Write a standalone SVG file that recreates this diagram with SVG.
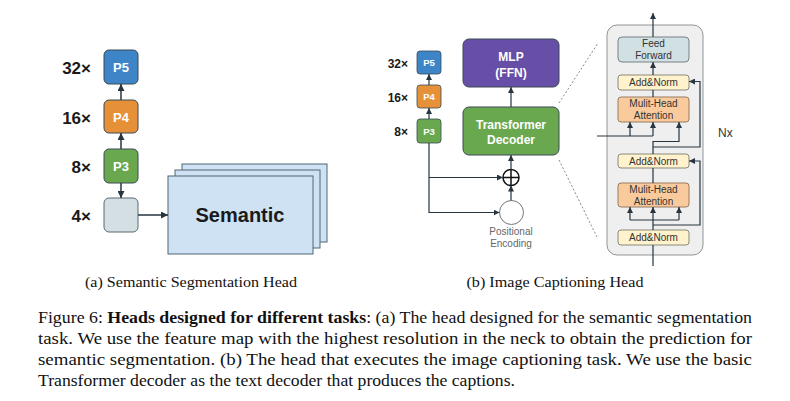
<svg xmlns="http://www.w3.org/2000/svg" width="790" height="401" viewBox="0 0 790 401">
<style>
.lbl{font-family:"Liberation Sans",Arial,sans-serif;font-weight:bold;fill:#1a1a1a}
.pt{font-family:"Liberation Sans",Arial,sans-serif;font-weight:bold;fill:#fff;text-anchor:middle}
.bt{font-family:"Liberation Sans",Arial,sans-serif;fill:#333;text-anchor:middle;font-size:10px}
.ln{fill:none;stroke:#263540;stroke-width:1.5}
.ln2{fill:none;stroke:#263540;stroke-width:1.2}
.cap{font-family:"Liberation Serif","Times New Roman",serif;fill:#111}
.dash{fill:none;stroke:#8a8a8a;stroke-width:1;stroke-dasharray:2 2}
</style>
<defs>
<marker id="ah" viewBox="0 0 10 10" refX="10" refY="5" markerWidth="7" markerHeight="7" markerUnits="userSpaceOnUse" orient="auto"><path d="M0,0 L10,5 L0,10 z" fill="#263540"/></marker>
<marker id="ah2" viewBox="0 0 10 10" refX="10" refY="5" markerWidth="6" markerHeight="6" markerUnits="userSpaceOnUse" orient="auto"><path d="M0,0 L10,5 L0,10 z" fill="#263540"/></marker>
</defs>

<!-- (a) Semantic segmentation head -->
<g id="labels-a">
<text class="lbl" x="91" y="74" font-size="17" text-anchor="end">32×</text>
<text class="lbl" x="91" y="124" font-size="17" text-anchor="end">16×</text>
<text class="lbl" x="91" y="173" font-size="17" text-anchor="end">8×</text>
<text class="lbl" x="91" y="222" font-size="17" text-anchor="end">4×</text>
</g>
<g id="a-P5"><rect x="104" y="50" width="34" height="34" rx="5" fill="#3d85c6" stroke="#3a4a55"/><text class="pt" x="121" y="72" font-size="13">P5</text></g>
<g id="a-P4"><rect x="104" y="100" width="34" height="33" rx="5" fill="#e69138" stroke="#3a4a55"/><text class="pt" x="121" y="121.5" font-size="13">P4</text></g>
<g id="a-P3"><rect x="104" y="149" width="34" height="34" rx="5" fill="#6aa84f" stroke="#3a4a55"/><text class="pt" x="121" y="171" font-size="13">P3</text></g>
<g id="a-P2"><rect x="104" y="198" width="34" height="34" rx="5" fill="#d3dfe3" stroke="#5a6a72"/></g>
<g id="a-semantic">
<rect x="182" y="164" width="145" height="78" fill="#cfe2f3" stroke="#4f6676"/>
<rect x="175" y="170" width="145" height="78" fill="#cfe2f3" stroke="#4f6676"/>
<rect x="168" y="176" width="145" height="78" fill="#cfe2f3" stroke="#4f6676"/>
<text class="lbl" x="240" y="222" font-size="20" text-anchor="middle" fill="#111">Semantic</text>
</g>
<g id="a-connectors">
<path class="ln" d="M121,100 V84" marker-end="url(#ah)"/>
<path class="ln" d="M121,149 V133" marker-end="url(#ah)"/>
<path class="ln" d="M121,183 V198" marker-end="url(#ah)"/>
<path class="ln" d="M138,215 H168" marker-end="url(#ah)"/>
</g>

<!-- (b) Image captioning head -->
<g id="labels-b">
<text class="lbl" x="408" y="67.5" font-size="12" text-anchor="end">32×</text>
<text class="lbl" x="408" y="101.5" font-size="12" text-anchor="end">16×</text>
<text class="lbl" x="408" y="135.5" font-size="12" text-anchor="end">8×</text>
</g>
<g id="b-P5"><rect x="417" y="51" width="24" height="23" rx="3" fill="#3d85c6" stroke="#3a4a55" stroke-width="0.8"/><text class="pt" x="429" y="66" font-size="9.5">P5</text></g>
<g id="b-P4"><rect x="417" y="85" width="24" height="23" rx="3" fill="#e69138" stroke="#3a4a55" stroke-width="0.8"/><text class="pt" x="429" y="100" font-size="9.5">P4</text></g>
<g id="b-P3"><rect x="417" y="119" width="24" height="24" rx="3" fill="#6aa84f" stroke="#3a4a55" stroke-width="0.8"/><text class="pt" x="429" y="134.5" font-size="9.5">P3</text></g>
<g id="b-mlp"><rect x="463" y="39" width="96" height="48" rx="6" fill="#674ea7" stroke="#3a4a55"/><text class="pt" x="511" y="61" font-size="12">MLP</text><text class="pt" x="511" y="77" font-size="12">(FFN)</text></g>
<g id="b-decoder"><rect x="463" y="107" width="96" height="48" rx="6" fill="#6aa84f" stroke="#3a4a55"/><text class="pt" x="511" y="129" font-size="12">Transformer</text><text class="pt" x="511" y="143.5" font-size="12">Decoder</text></g>
<g id="b-plus"><circle cx="511" cy="177.5" r="8" fill="#fff" stroke="#111" stroke-width="1.5"/><path d="M503,177.5 H519 M511,169.5 V185.5" stroke="#111" stroke-width="1.5"/></g>
<g id="b-posenc"><circle cx="511.5" cy="212.5" r="12" fill="#fff" stroke="#777"/>
<text x="511" y="235" font-size="10" text-anchor="middle" fill="#666" font-family="'Liberation Sans',Arial,sans-serif">Positional</text>
<text x="511" y="247" font-size="10" text-anchor="middle" fill="#666" font-family="'Liberation Sans',Arial,sans-serif">Encoding</text></g>
<g id="b-connectors">
<path class="ln2" d="M429,85 V74" marker-end="url(#ah2)"/>
<path class="ln2" d="M429,119 V108" marker-end="url(#ah2)"/>
<path class="ln2" d="M429,143 V212.5 H499.5" marker-end="url(#ah2)"/>
<path class="ln2" d="M429,177.5 H503" marker-end="url(#ah2)"/>
<path class="ln2" d="M511,200.5 V185.5" marker-end="url(#ah2)"/>
<path class="ln2" d="M511,169.5 V155" marker-end="url(#ah2)"/>
<path class="ln2" d="M511,107 V87" marker-end="url(#ah2)"/>
<path class="dash" d="M559,103 L598,43"/>
<path class="dash" d="M559,160 L598,239"/>
</g>

<!-- expanded decoder block -->
<g id="block"><rect x="607" y="25" width="96" height="230" rx="10" fill="#efefef" stroke="#8f9498"/></g>
<g id="ff"><rect x="618" y="37" width="71" height="25" rx="4" fill="#d0e0e3" stroke="#7a8085"/><text class="bt" x="653.5" y="47">Feed</text><text class="bt" x="653.5" y="58.5">Forward</text></g>
<g id="addnorm3"><rect x="618" y="75" width="71" height="15" rx="3" fill="#fff2cc" stroke="#8a8a7a"/><text class="bt" x="653.5" y="86">Add&amp;Norm</text></g>
<g id="mha2"><rect x="618" y="97" width="71" height="25" rx="3" fill="#f9cb9c" stroke="#9a7a60"/><text class="bt" x="653.5" y="107">Mulit-Head</text><text class="bt" x="653.5" y="119">Attention</text></g>
<g id="addnorm2"><rect x="618" y="154" width="71" height="14" rx="3" fill="#fff2cc" stroke="#8a8a7a"/><text class="bt" x="653.5" y="164.5">Add&amp;Norm</text></g>
<g id="mha1"><rect x="618" y="183" width="71" height="24" rx="3" fill="#f9cb9c" stroke="#9a7a60"/><text class="bt" x="653.5" y="193">Mulit-Head</text><text class="bt" x="653.5" y="204.5">Attention</text></g>
<g id="addnorm1"><rect x="618" y="230" width="71" height="15" rx="3" fill="#fff2cc" stroke="#8a8a7a"/><text class="bt" x="653.5" y="241">Add&amp;Norm</text></g>
<g id="nx"><text x="718" y="137" font-size="12" fill="#333" font-family="'Liberation Sans',Arial,sans-serif">Nx</text></g>
<g id="block-connectors">
<path class="ln2" d="M653,37 V13" marker-end="url(#ah2)"/>
<path class="ln2" d="M653,75 V62" marker-end="url(#ah2)"/>
<path class="ln2" d="M653,97 V90"/>
<path class="ln2" d="M597,136 H653"/>
<path class="ln2" d="M630,136 V122" marker-end="url(#ah2)"/>
<path class="ln2" d="M653,136 V122" marker-end="url(#ah2)"/>
<path class="ln2" d="M653,154 V141.5 H679 V122" marker-end="url(#ah2)"/>
<path class="ln2" d="M653,147 H700 V81.5 H689" marker-end="url(#ah2)"/>
<path class="ln2" d="M653,183 V168"/>
<path class="ln2" d="M630,220 H679"/>
<path class="ln2" d="M630,220 V207" marker-end="url(#ah2)"/>
<path class="ln2" d="M679,220 V207" marker-end="url(#ah2)"/>
<path class="ln2" d="M653,230 V207" marker-end="url(#ah2)"/>
<path class="ln2" d="M653,225 H700 V161 H689" marker-end="url(#ah2)"/>
<path class="ln2" d="M653,266 V245"/>
</g>

<!-- captions -->
<g id="captions" xml:space="preserve">
<text class="cap" x="191" y="287" font-size="15" text-anchor="middle" textLength="212" lengthAdjust="spacingAndGlyphs">(a) Semantic Segmentation Head</text>
<text class="cap" x="555" y="287" font-size="15" text-anchor="middle" textLength="177" lengthAdjust="spacingAndGlyphs">(b) Image Captioning Head</text>
<text class="cap" x="38" y="323" font-size="16" textLength="714" lengthAdjust="spacingAndGlyphs">Figure 6: <tspan font-weight="bold">Heads designed for different tasks</tspan>: (a) The head designed for the semantic segmentation</text>
<text class="cap" x="38" y="344" font-size="16" textLength="714" lengthAdjust="spacingAndGlyphs">task.  We use the feature map with the highest resolution in the neck to obtain the prediction for</text>
<text class="cap" x="38" y="365" font-size="16" textLength="714" lengthAdjust="spacingAndGlyphs">semantic segmentation.  (b) The head that executes the image captioning task.  We use the basic</text>
<text class="cap" x="38" y="386" font-size="16" textLength="477" lengthAdjust="spacingAndGlyphs">Transformer decoder as the text decoder that produces the captions.</text>
</g>
</svg>
